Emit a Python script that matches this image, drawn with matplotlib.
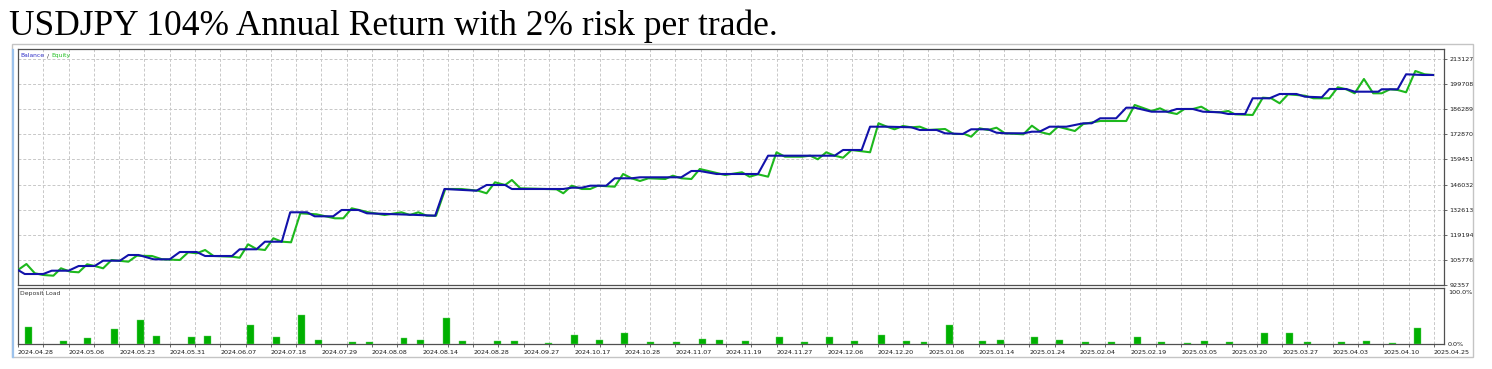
import numpy as np
import matplotlib.pyplot as plt
from matplotlib.lines import Line2D
from matplotlib.patches import Rectangle

# --- Data (x = deal number) ---
title = "USDJPY 104% Annual Return with 2% risk per trade."

bal_x = [0, 0.8, 3.0, 4.0, 6.0, 7.2, 9.1, 10.1, 12.1, 13.1, 14.3, 16.1, 18.0, 19.2, 21.2, 22.2,
         25.4, 26.3, 28.3, 29.3, 31.3, 32.3, 34.3, 35.2, 37.4, 38.4, 40.4, 41.4, 47.5, 49.5,
         50.6, 54.4, 55.6, 57.8, 58.6, 64.7, 65.7, 66.9, 67.9, 69.8, 70.8, 72.8, 73.8, 78.7,
         79.9, 80.9, 82.9, 87.8, 89.0, 96.9, 97.9, 100.1, 101.1, 103.1, 106.0, 107.0, 109.0,
         110.0, 112.1, 113.1, 115.1, 116.1, 117.1, 119.3, 120.3, 121.2, 122.4, 124.4, 126.4,
         127.4, 128.4, 130.3, 131.5, 132.5, 134.5, 136.5, 137.5, 139.4, 140.6, 142.6, 143.6,
         145.6, 146.5, 148.5, 149.7, 151.7, 152.7, 154.7, 155.6, 157.6, 158.6, 161.4, 161.8,
         163.7, 164.7, 166.7, 167.9]
bal_y = [100373, 98235, 98235, 99999, 99999, 102511, 102511, 105343, 105343, 108389, 108389,
         106091, 106091, 109992, 109992, 107855, 107855, 111435, 111435, 115497, 115497,
         131208, 131208, 129070, 129070, 132437, 132437, 130673, 129765, 129391, 143659,
         142751, 145797, 145797, 143659, 143659, 144354, 144354, 145423, 145423, 149377,
         149377, 149912, 149912, 153279, 153279, 151675, 151675, 161455, 161455, 164501,
         164501, 176953, 176953, 176632, 175189, 175189, 173425, 173051, 175563, 175563,
         173746, 173425, 173425, 174281, 174281, 176953, 176953, 178769, 178769, 181441,
         181441, 187106, 187106, 184969, 184969, 186411, 186411, 184969, 184648, 183739,
         183739, 192129, 192129, 194427, 194427, 192985, 192664, 197099, 197099, 195657,
         195657, 196939, 196939, 204955, 204581, 204581]

eq_x = [0, 1.0, 2.0, 3.0, 4.2, 5.1, 6.2, 7.2, 8.2, 9.1, 10.1, 11.1, 13.1, 14.1, 15.9, 17.1,
        19.2, 20.2, 21.2, 22.2, 23.2, 25.4, 26.3, 27.3, 28.3, 29.3, 30.3, 31.3, 32.4, 33.5,
        35.4, 37.6, 38.6, 39.6, 41.6, 43.5, 45.5, 46.5, 47.5, 48.5, 49.6, 50.7, 52.6, 54.6,
        55.6, 56.6, 57.8, 58.6, 59.6, 63.9, 64.7, 65.7, 66.9, 67.9, 68.8, 70.8, 71.8, 72.8,
        73.8, 74.8, 76.8, 77.7, 78.7, 79.9, 80.9, 81.9, 83.9, 85.9, 86.8, 87.8, 89.0, 90.0,
        91.0, 93.0, 94.0, 94.9, 95.9, 96.9, 97.9, 98.9, 101.1, 102.1, 103.1, 104.0, 105.0,
        106.0, 107.0, 108.0, 110.0, 111.0, 112.3, 113.1, 114.1, 115.1, 116.1, 117.1, 119.3,
        120.3, 121.4, 122.4, 123.4, 125.4, 126.4, 128.4, 131.5, 132.5, 134.5, 135.5, 136.5,
        137.5, 138.4, 139.4, 140.4, 141.4, 142.6, 143.6, 144.4, 146.5, 147.7, 148.7, 149.7,
        150.7, 152.7, 153.7, 155.6, 156.6, 157.6, 158.6, 159.7, 160.8, 161.8, 162.8, 163.7,
        164.7, 165.8, 166.9, 167.9]
eq_y = [100373, 103579, 98609, 97701, 97327, 101281, 99465, 99144, 103419, 102511, 101281,
        105717, 104809, 108015, 107855, 106091, 105717, 109832, 109297, 111061, 107855,
        107481, 106946, 114107, 111595, 111061, 117313, 115497, 115176, 130673, 130139,
        128001, 128001, 133345, 131208, 129765, 131208, 129765, 131208, 129391, 129391,
        143659, 143659, 142751, 141361, 147240, 145797, 148469, 144033, 143499, 141361,
        145423, 143659, 143659, 145423, 144889, 151675, 149377, 147935, 149377, 149003,
        150767, 149377, 149003, 154347, 153279, 151141, 152584, 150233, 151515, 150233,
        163272, 160921, 160921, 161455, 159531, 163272, 161455, 160386, 164501, 163272,
        178769, 176953, 175563, 177327, 176632, 176953, 175189, 175723, 173051, 173051,
        171609, 176097, 175189, 176418, 173425, 172891, 177487, 173960, 172891, 176953,
        174655, 178395, 179999, 179999, 188549, 185343, 186785, 184648, 183739, 186411,
        186411, 187641, 184969, 184648, 185343, 183579, 183205, 192450, 192129, 189457,
        194267, 193519, 192129, 192129, 198008, 196939, 194801, 202443, 194801, 194801,
        196939, 196565, 195336, 206719, 204955, 204581]

# deposit load bars (percent)
dl_x = [1.3, 5.4, 8.3, 11.4, 14.5, 16.4, 20.6, 22.5, 27.6, 30.7, 33.6, 35.7, 39.7, 41.7,
        45.8, 47.8, 50.9, 52.8, 56.9, 58.9, 62.9, 66.0, 69.0, 72.0, 75.1, 78.1, 81.2, 83.2,
        86.3, 90.3, 93.3, 96.3, 99.3, 102.4, 105.4, 107.5, 110.5, 114.5, 116.6, 120.6, 123.6,
        126.7, 129.7, 132.8, 135.7, 138.8, 140.8, 143.8, 147.9, 150.9, 153.0, 157.0, 160.0,
        163.1, 166.1]
dl_pct = [30, 5, 10.5, 27, 42, 14, 12, 14, 33, 13, 51, 6.5, 3.5, 3.5, 10.5, 6.5, 46, 4.7, 4.7,
          4.7, 1.8, 16, 6.5, 20, 3.5, 3.5, 9, 6.5, 4.7, 13, 3.5, 12, 4.7, 16, 4.7, 3.5, 33,
          4.7, 6.5, 13, 6.5, 3.5, 3.5, 13, 3.5, 1.8, 4.7, 3.5, 20, 20, 3.5, 3.5, 4.7, 1.8, 28]

y_ticks = [92357, 105776, 119194, 132613, 146032, 159451, 172870, 186289, 199708, 213127]
date_labels = ['2024.04.28', '2024.05.06', '2024.05.23', '2024.05.31', '2024.06.07',
               '2024.07.18', '2024.07.29', '2024.08.08', '2024.08.14', '2024.08.28',
               '2024.09.27', '2024.10.17', '2024.10.28', '2024.11.07', '2024.11.19',
               '2024.11.27', '2024.12.06', '2024.12.20', '2025.01.06', '2025.01.14',
               '2025.01.24', '2025.02.04', '2025.02.19', '2025.03.05', '2025.03.20',
               '2025.03.27', '2025.04.03', '2025.04.10', '2025.04.25']

# --- Figure / layout in pixels ---
W, H = 1492, 369
fig = plt.figure(figsize=(W / 100, H / 100), dpi=100)


def fx(px):
    return px / W


def fy(py):
    return 1 - py / H


x_max = 169.2
grid_kw = dict(color='#c8c8c8', linestyle=(0, (3, 2)), linewidth=0.7)
frame_col = '#505050'
tick_font = dict(fontsize=4.6, color='#1a1a1a')

ax = fig.add_axes([fx(18), fy(285), fx(1444) - fx(18), fy(49) - fy(285)])
ax2 = fig.add_axes([fx(18), fy(344), fx(1444) - fx(18), fy(287.5) - fy(344)])

# main panel
ax.plot(eq_x, eq_y, color='#1db81d', linewidth=1.5, zorder=3)
ax.plot(bal_x, bal_y, color='#1212aa', linewidth=1.5, zorder=4)
ax.set_xlim(0, x_max)
ax.set_ylim(92357, 218470)
ax.set_xticks(np.arange(0, x_max, 3))
ax.set_yticks(y_ticks)
ax.set_yticklabels([str(v) for v in y_ticks])
ax.yaxis.tick_right()
ax.tick_params(axis='x', length=0, labelbottom=False)
ax.tick_params(axis='y', direction='out', length=2.5, width=0.6, color=frame_col, pad=1.5,
               labelsize=tick_font['fontsize'], labelcolor=tick_font['color'])
ax.grid(True, **grid_kw)
ax.set_axisbelow(True)
for s in ax.spines.values():
    s.set_color(frame_col)
    s.set_linewidth(0.9)

# legend text
fig.text(fx(20.7), fy(55.7), 'Balance', color='#3030c8', fontsize=4.3, va='center')
fig.text(fx(46.6), fy(55.7), '/', color='#333333', fontsize=4.3, va='center')
fig.text(fx(51.2), fy(55.7), 'Equity', color='#22c022', fontsize=4.3, va='center')

# deposit load panel
ax2.bar(dl_x, dl_pct, width=0.83, color='#00b000', edgecolor='#66d066', linewidth=0.3,
        zorder=3)
ax2.set_xlim(0, x_max)
ax2.set_ylim(0, 100)
xt = np.arange(0, x_max, 3)
ax2.set_xticks(xt)
ax2.set_xticklabels([date_labels[i // 2] if i % 2 == 0 else '' for i in range(len(xt))])
for lbl in ax2.get_xticklabels():
    lbl.set_horizontalalignment('left')
ax2.tick_params(axis='x', direction='out', length=2, width=0.6, color=frame_col, pad=2,
                labelsize=tick_font['fontsize'], labelcolor=tick_font['color'])
ax2.set_yticks([])
ax2.grid(True, axis='x', **grid_kw)
ax2.set_axisbelow(True)
for s in ax2.spines.values():
    s.set_color(frame_col)
    s.set_linewidth(0.9)
fig.text(fx(20.5), fy(294), 'Deposit Load', color='#333333', fontsize=4.4, va='center')
fig.text(fx(1448), fy(292), '100.0%', va='center', **tick_font)
fig.text(fx(1448), fy(344), '0.0%', va='center', **tick_font)

# outer report frame
fig.add_artist(Rectangle((fx(12), fy(357)), fx(1473) - fx(12), fy(44) - fy(357),
                         transform=fig.transFigure, fill=False, edgecolor='#c4c4c4',
                         linewidth=1.0))
fig.add_artist(Line2D([fx(12.5), fx(12.5)], [fy(50), fy(357)], transform=fig.transFigure,
                      color='#9cc2ec', linewidth=1.6))

# title
fig.text(fx(9), fy(35), title, fontfamily='Liberation Serif', fontsize=25.5, va='baseline',
         color='black')

plt.savefig('out.png', dpi=100, facecolor='white')
